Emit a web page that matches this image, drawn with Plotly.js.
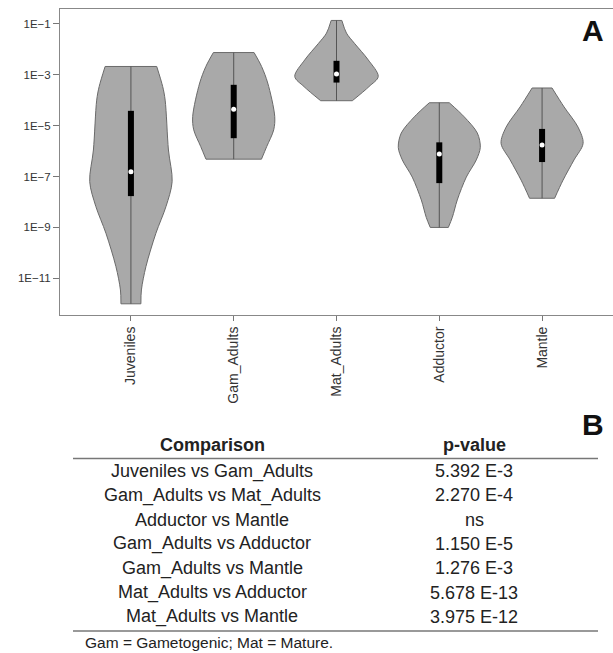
<!DOCTYPE html>
<html>
<head>
<meta charset="utf-8">
<script src="https://cdn.plot.ly/plotly-3.0.1.min.js"></script>
<style>
html,body{margin:0;padding:0;background:#fff;}
#chart{width:613px;height:653px;}
</style>
</head>
<body>
<div id="chart"></div>
<script>
// ---------- DATA ----------
const categories = ['Juveniles', 'Gam_Adults', 'Mat_Adults', 'Adductor', 'Mantle'];

// violin outline: values (top -> bottom) and half-widths (in category units)
const juvY  = [2.1e-3, 3.4e-4, 1.0e-4, 1.1e-6, 6.3e-8, 6.6e-9, 5.9e-10, 2.9e-11, 3.5e-12, 1.0e-12];
const juvW  = [0.251, 0.309, 0.333, 0.365, 0.401, 0.341, 0.243, 0.146, 0.102, 0.097];
const gamY  = [7.4e-3, 2.1e-3, 4.7e-4, 2.3e-5, 6.8e-6, 1.5e-6, 4.8e-7];
const gamW  = [0.198, 0.271, 0.331, 0.399, 0.389, 0.321, 0.270];
const matY  = [1.35e-1, 4.3e-2, 1.7e-2, 3.8e-3, 8.5e-4, 3.4e-4, 9.5e-5];
const matW  = [0.052, 0.097, 0.175, 0.309, 0.406, 0.316, 0.154];
const addY  = [7.9e-5, 2.2e-5, 5.1e-6, 1.4e-6, 4.5e-7, 9.5e-8, 1.2e-8, 2.5e-9, 1.0e-9];
const addW  = [0.097, 0.243, 0.370, 0.399, 0.360, 0.263, 0.175, 0.127, 0.088];
const manY  = [3.0e-4, 5.4e-5, 8.7e-6, 2.0e-6, 4.5e-7, 7.2e-8, 1.4e-8];
const manW  = [0.097, 0.214, 0.350, 0.399, 0.311, 0.204, 0.122];

// inner box (interquartile range) and median
const boxUpper = [3.8e-5, 4.0e-4, 3.5e-3, 2.2e-6, 7.4e-6];
const boxLower = [1.7e-8, 3.2e-6, 4.9e-4, 5.5e-8, 3.7e-7];
const medians  = [1.55e-7, 4.4e-5, 1.07e-3, 7.6e-7, 1.74e-6];

// y tick labels
const yTickVals = [1e-1, 1e-3, 1e-5, 1e-7, 1e-9, 1e-11];
const yTickText = ['1E\u22121', '1E\u22123', '1E\u22125', '1E\u22127', '1E\u22129', '1E\u221211'];

// table
const comparisons = ['Juveniles vs Gam_Adults', 'Gam_Adults vs Mat_Adults', 'Adductor vs Mantle',
  'Gam_Adults vs Adductor', 'Gam_Adults vs Mantle', 'Mat_Adults vs Adductor', 'Mat_Adults vs Mantle'];
const pValues = ['5.392 E-3', '2.270 E-4', 'ns', '1.150 E-5', '1.276 E-3', '5.678 E-13', '3.975 E-12'];
const footnote = 'Gam = Gametogenic; Mat = Mature.';

// ---------- BUILD ----------
const profiles = [[juvY, juvW], [gamY, gamW], [matY, matW], [addY, addW], [manY, manW]];
const FONT = '"Liberation Sans", Arial, Helvetica, sans-serif';
const FILL = '#a9a9a9', EDGE = '#6a6a6a';
const traces = [];

profiles.forEach(function (p, i) {
  const ys = p[0], ws = p[1];
  const n = ys.length;
  // left side of the violin
  traces.push({
    type: 'scatter', mode: 'lines',
    x: ws.map(function (w) { return i - w; }), y: ys,
    line: {color: EDGE, width: 1, shape: 'spline', smoothing: 0.9},
    hoverinfo: 'skip', showlegend: false
  });
  // right side, filled to the left side
  traces.push({
    type: 'scatter', mode: 'lines',
    x: ws.map(function (w) { return i + w; }), y: ys,
    fill: 'tonextx', fillcolor: FILL,
    line: {color: EDGE, width: 1, shape: 'spline', smoothing: 0.9},
    hoverinfo: 'skip', showlegend: false
  });
  // flat top and bottom edges
  traces.push({
    type: 'scatter', mode: 'lines',
    x: [i - ws[0], i + ws[0], null, i - ws[n - 1], i + ws[n - 1]],
    y: [ys[0], ys[0], null, ys[n - 1], ys[n - 1]],
    line: {color: EDGE, width: 1}, hoverinfo: 'skip', showlegend: false
  });
  // whisker line through the violin
  traces.push({
    type: 'scatter', mode: 'lines', x: [i, i], y: [ys[0], ys[n - 1]],
    line: {color: '#555555', width: 1}, hoverinfo: 'skip', showlegend: false
  });
  // IQR box
  traces.push({
    type: 'scatter', mode: 'lines', x: [i, i], y: [boxUpper[i], boxLower[i]],
    line: {color: '#000000', width: 6}, hoverinfo: 'skip', showlegend: false
  });
});
traces.push({
  type: 'scatter', mode: 'markers', x: categories.map(function (c, i) { return i; }), y: medians,
  marker: {color: '#ffffff', size: 5, line: {width: 0}}, hoverinfo: 'skip', showlegend: false
});

// pixel -> paper helpers (layout only)
const L = 60, T = 9, W = 553, H = 306;
function px(x) { return (x - L) / W; }
function py(y) { return (T + H - y) / H; }

const annotations = [];
annotations.push({xref: 'paper', yref: 'paper', x: px(593), y: py(31), text: '<b>A</b>', showarrow: false,
  xanchor: 'center', yanchor: 'middle', font: {family: FONT, size: 30, color: '#111'}});
annotations.push({xref: 'paper', yref: 'paper', x: px(593), y: py(424), text: '<b>B</b>', showarrow: false,
  xanchor: 'center', yanchor: 'middle', font: {family: FONT, size: 30, color: '#111'}});
annotations.push({xref: 'paper', yref: 'paper', x: px(212), y: py(445), text: '<b>Comparison</b>', showarrow: false,
  xanchor: 'center', yanchor: 'middle', font: {family: FONT, size: 18, color: '#222'}});
annotations.push({xref: 'paper', yref: 'paper', x: px(474), y: py(445), text: '<b>p-value</b>', showarrow: false,
  xanchor: 'center', yanchor: 'middle', font: {family: FONT, size: 18, color: '#222'}});
const rowY0 = 471, rowStep = 24.3;
comparisons.forEach(function (c, r) {
  annotations.push({xref: 'paper', yref: 'paper', x: px(212), y: py(rowY0 + r * rowStep), text: c, showarrow: false,
    xanchor: 'center', yanchor: 'middle', font: {family: FONT, size: 18, color: '#222'}});
  annotations.push({xref: 'paper', yref: 'paper', x: px(474), y: py(rowY0 + r * rowStep), text: pValues[r], showarrow: false,
    xanchor: 'center', yanchor: 'middle', font: {family: FONT, size: 18, color: '#222'}});
});
annotations.push({xref: 'paper', yref: 'paper', x: px(83), y: py(643), text: footnote, showarrow: false,
  xanchor: 'left', yanchor: 'middle', font: {family: FONT, size: 15.5, color: '#222'}});

const shapes = [
  {type: 'line', xref: 'paper', yref: 'paper', x0: px(73), x1: px(598), y0: py(458.5), y1: py(458.5),
    line: {color: '#777', width: 1.5}},
  {type: 'line', xref: 'paper', yref: 'paper', x0: px(73), x1: px(598), y0: py(631), y1: py(631),
    line: {color: '#777', width: 1.5}}
];

const layout = {
  width: 613, height: 653,
  margin: {l: L, r: 0, t: T, b: 653 - T - H, pad: 0},
  paper_bgcolor: '#ffffff', plot_bgcolor: '#ffffff',
  showlegend: false,
  font: {family: FONT, color: '#333'},
  xaxis: {
    range: [-0.69, 4.69], tickvals: [0, 1, 2, 3, 4], ticktext: categories,
    tickangle: -90, ticks: 'outside', ticklen: 5, tickcolor: '#777', tickwidth: 1,
    showline: true, linecolor: '#888', linewidth: 1, mirror: true,
    showgrid: false, zeroline: false, fixedrange: true,
    tickfont: {family: FONT, size: 14, color: '#333'}
  },
  yaxis: {
    type: 'log', range: [-12.44, -0.42], tickvals: yTickVals, ticktext: yTickText,
    ticks: 'outside', ticklen: 6, tickcolor: '#777', tickwidth: 1,
    showline: true, linecolor: '#888', linewidth: 1, mirror: false,
    showgrid: false, zeroline: false, fixedrange: true,
    tickfont: {family: FONT, size: 11.5, color: '#333'}
  },
  annotations: annotations,
  shapes: shapes
};

Plotly.newPlot('chart', traces, layout, {staticPlot: true, displayModeBar: false});
</script>
</body>
</html>
